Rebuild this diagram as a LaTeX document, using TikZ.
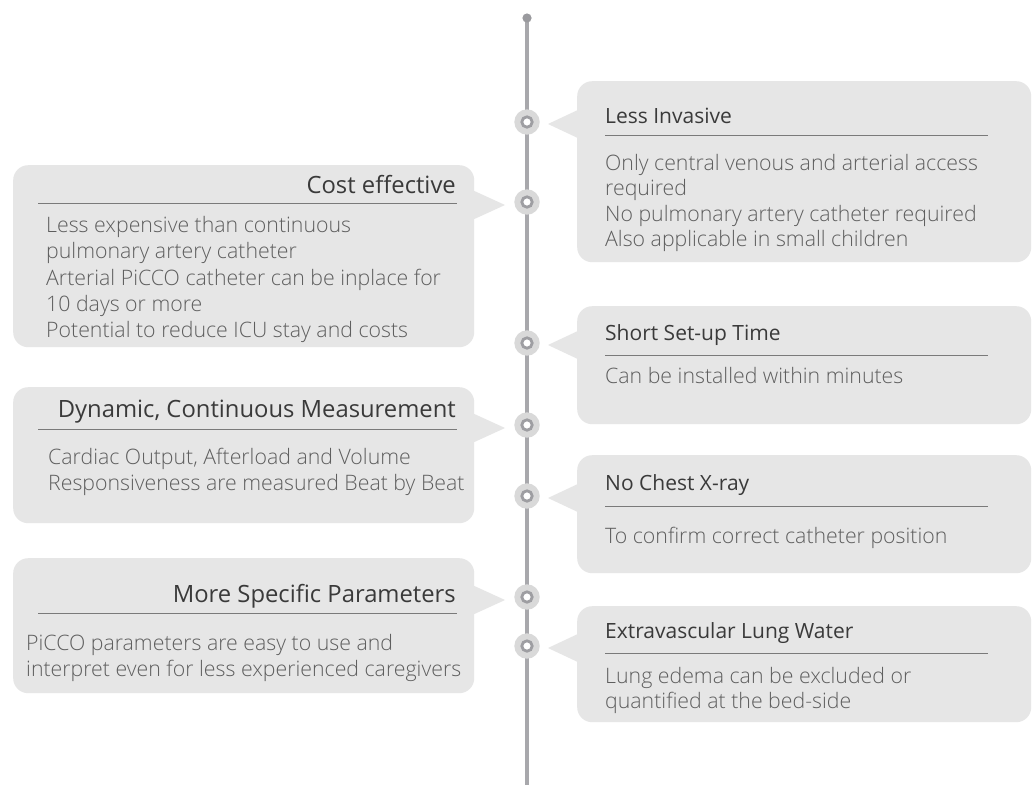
\documentclass[tikz,border=0pt]{standalone}
\usepackage{fontspec}
\setmainfont{Open Sans}
\newfontfamily\lightfont{Open Sans Light}
\usetikzlibrary{calc}
\definecolor{boxc}{HTML}{E6E6E6}
\definecolor{markc}{HTML}{D9D9D9}
\definecolor{ringc}{HTML}{9E9EA2}
\definecolor{spinec}{HTML}{A8A8AC}
\definecolor{dotc}{HTML}{9A9A9E}
\definecolor{rulec}{HTML}{7A7A7A}
\definecolor{titlec}{HTML}{3A3A3A}
\definecolor{bodyc}{HTML}{5E5E5E}
\begin{document}
\begin{tikzpicture}[x=1pt,y=-1pt,
  spine/.style={draw=spinec,line width=3.3pt},
  panel/.style={fill=boxc,rounded corners=15pt,inner sep=0pt,anchor=north west},
  marker/.style={circle,fill=markc,minimum size=25.4pt,inner sep=0pt,
    path picture={\fill[white] (path picture bounding box.center) circle (5.2pt);
      \draw[ringc,line width=2.8pt] (path picture bounding box.center) circle (5.2pt);}},
  ttlL/.style={text=titlec,font=\fontsize{21}{24}\selectfont,inner sep=0pt,anchor=base west},
  ttlR/.style={text=titlec,font=\fontsize{23.8}{26}\selectfont,inner sep=0pt,anchor=base east},
  body/.style={text=bodyc,font=\lightfont\fontsize{21.3}{24}\selectfont,inner sep=0pt,anchor=base west},
  rule/.style={draw=rulec,line width=1pt}]
\useasboundingbox (0,0) rectangle (1032,785);
\fill[white] (0,0) rectangle (1032,785);
% spine
\coordinate (top) at (527,18);
\coordinate (bot) at (527,785);
\draw[spine] (top) -- (bot);
\fill[dotc] (top) circle (4.6);
% markers positions
\coordinate (p1) at (527,122);
\coordinate (p2) at (527,202);
\coordinate (p3) at (527,343);
\coordinate (p4) at (527,425);
\coordinate (p5) at (527,496);
\coordinate (p6) at (527,597);
\coordinate (p7) at (527,646);
% pointers right
\foreach \p in {p1,p3,p5,p7}
  \fill[boxc] ($(\p)+(21,2)$) -- ++(33,-15.5) -- ++(0,31) -- cycle;
% pointers left
\foreach \p in {p2,p4,p6}
  \fill[boxc] ($(\p)+(-22,3)$) -- ++(-35,-16) -- ++(0,32) -- cycle;
% right panels
\node[panel,minimum width=454pt,minimum height=181pt] (r1) at (577,81) {};
\node[panel,minimum width=454pt,minimum height=118pt] (r2) at (577,306) {};
\node[panel,minimum width=454pt,minimum height=118pt] (r3) at (577,455) {};
\node[panel,minimum width=454pt,minimum height=116pt] (r4) at (577,606) {};
% left panels
\node[panel,minimum width=461pt,minimum height=182pt] (l1) at (13,165) {};
\node[panel,minimum width=461pt,minimum height=136pt] (l2) at (13,387) {};
\node[panel,minimum width=461pt,minimum height=135pt] (l3) at (13,558) {};
% markers
\node[marker] (m1) at (p1) {};
\node[marker] (m2) at (p2) {};
\node[marker] (m3) at (p3) {};
\node[marker] (m4) at (p4) {};
\node[marker] (m5) at (p5) {};
\node[marker] (m6) at (p6) {};
\node[marker] (m7) at (p7) {};
% right texts
\node[ttlL] (t1) at (605,123) {Less Invasive};
\draw[rule] (605,135) -- (988,135);
\node[body] (b1a) at (605,170) {Only central venous and arterial access};
\node[body] (b1b) at (605,195.5) {required};
\node[body] (b1c) at (605,221) {No pulmonary artery catheter required};
\node[body] (b1d) at (605,246.5) {Also applicable in small children};

\node[ttlL] (t3) at (605,340) {Short Set-up Time};
\draw[rule] (605,355) -- (988,355);
\node[body] (b3a) at (605,383) {Can be installed within minutes};

\node[ttlL] (t5) at (605,490) {No Chest X-ray};
\draw[rule] (605,506) -- (988,506);
\node[body] (b5a) at (605,543) {To confirm correct catheter position};

\node[ttlL] (t7) at (605,638) {Extravascular Lung Water};
\draw[rule] (605,653) -- (988,653);
\node[body] (b7a) at (605,683) {Lung edema can be excluded or};
\node[body] (b7b) at (605,708.5) {quantified at the bed-side};
% left texts
\node[ttlR] (t2) at (456,193) {Cost effective};
\draw[rule] (38,203) -- (457,203);
\node[body] (b2a) at (46,232) {Less expensive than continuous};
\node[body] (b2b) at (46,258.5) {pulmonary artery catheter};
\node[body] (b2c) at (46,285) {Arterial PiCCO catheter can be inplace for};
\node[body] (b2d) at (46,311) {10 days or more};
\node[body] (b2e) at (46,337) {Potential to reduce ICU stay and costs};

\node[ttlR] (t4) at (456,417) {Dynamic, Continuous Measurement};
\draw[rule] (38,429) -- (457,429);
\node[body] (b4a) at (48,464) {Cardiac Output, Afterload and Volume};
\node[body] (b4b) at (48,490) {Responsiveness are measured Beat by Beat};

\node[ttlR] (t6) at (456,602) {More Specific Parameters};
\draw[rule] (38,613) -- (457,613);
\node[body] (b6a) at (26,650) {PiCCO parameters are easy to use and};
\node[body] (b6b) at (26,676) {interpret even for less experienced caregivers};
\end{tikzpicture}
\end{document}
